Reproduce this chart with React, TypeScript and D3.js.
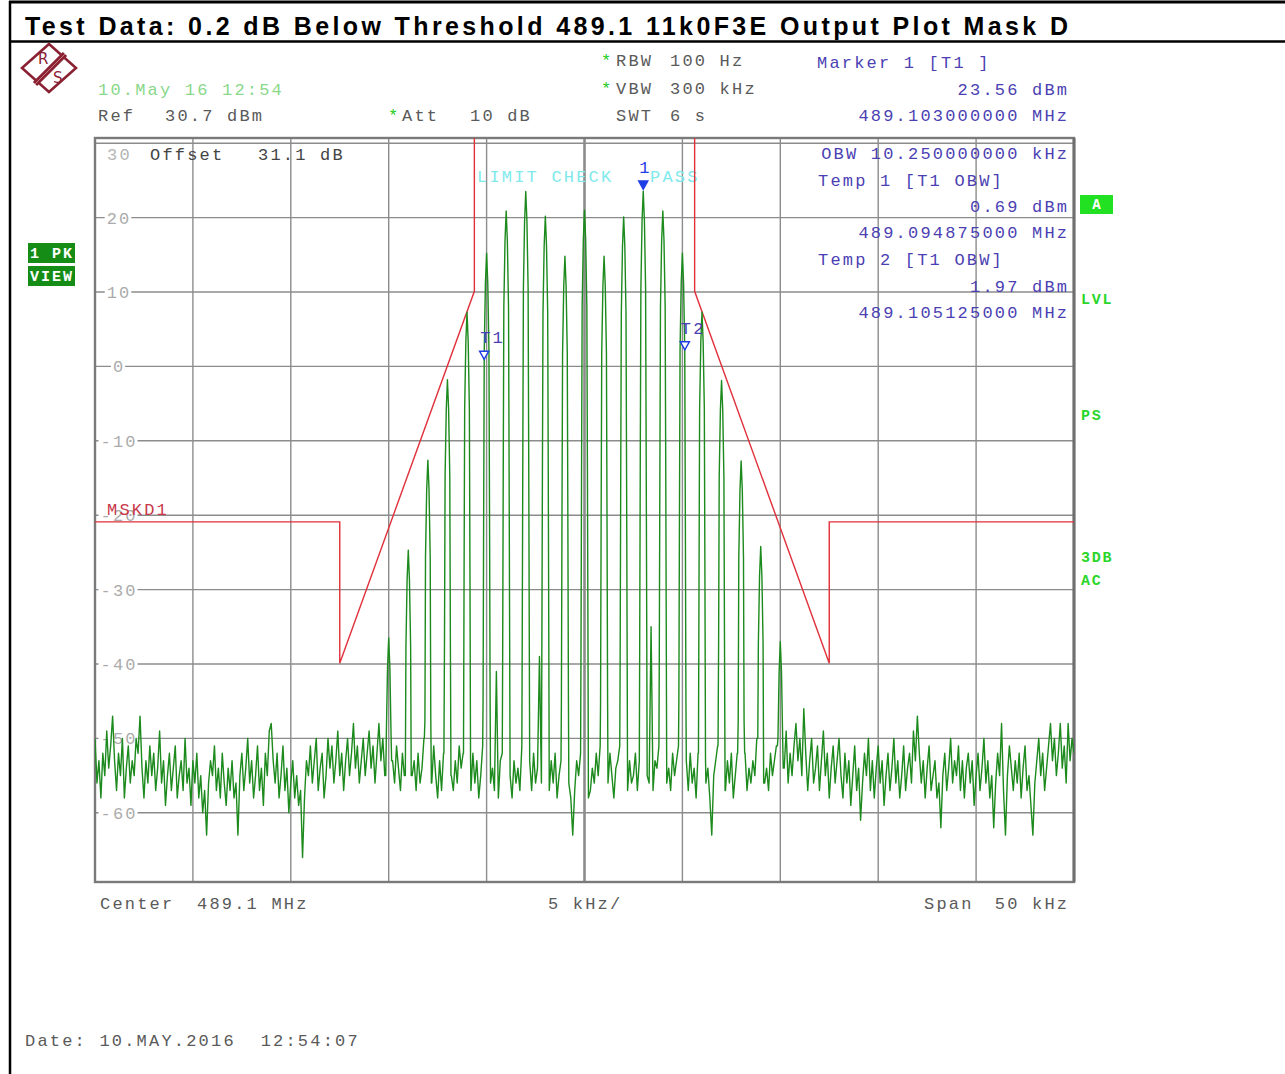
import React from "react";
import * as d3 from "d3";

const W = 1285;
const H = 1074;
const PLOT = { left: 95, right: 1074, top: 138, bottom: 882 };

// frequency offset from centre 489.1 MHz, in kHz
const spanKHz: [number, number] = [-25, 25];
const levelRangeDbm: [number, number] = [-69.3, 30.7];
const gridOffsetsKHz = [-25, -20, -15, -10, -5, 0, 5, 10, 15, 20, 25];
const yTickValues = [30, 20, 10, 0, -10, -20, -30, -40, -50, -60];
const yTickLabels = ["30", "20", "10", "0", "-10", "-20", "-30", "-40", "-50", "-60"];

// FM carrier + Bessel sidebands, 1 kHz spacing
const toneOffsetsKHz = [-10, -9, -8, -7, -6, -5, -4, -3, -2, -1, 0, 1, 2, 3, 4, 5, 6, 7, 8, 9, 10];
const toneLevelsDbm = [-36.5, -24.7, -12.6, -1.8, 7.3, 15.2, 20.9, 23.5, 20.2, 14.8, 21.0, 14.8, 20.1, 23.56, 20.9, 15.2, 7.3, -1.9, -12.7, -24.2, -37.0];
// shape of each spectral line (offset from line centre / drop from its peak)
const skirtOffsetsKHz = [0.06, 0.12, 0.15, 0.18];
const skirtDropsDb = [-4, -13, -35, -60];

// sweep trace between lines, 501 points at 0.1 kHz
const traceStartKHz = -25;
const traceStepKHz = 0.1;
const noiseDbm = [
  -50, -56, -53, -58, -52, -55, -49, -54, -51, -47,
  -53, -57, -52, -55, -50, -58, -54, -51, -56, -53,
  -55, -50, -52, -47, -54, -58, -53, -56, -51, -55,
  -52, -57, -54, -49, -56, -53, -59, -55, -52, -57,
  -54, -51, -58, -55, -53, -57, -50, -56, -54, -59,
  -53, -56, -52, -58, -55, -60, -57, -63, -56, -53,
  -55, -51, -57, -54, -58, -52, -56, -59, -54, -57,
  -53, -58, -56, -63, -55, -52, -57, -54, -50, -56,
  -53, -58, -55, -51, -57, -54, -59, -52, -55, -49,
  -48, -53, -56, -52, -58, -55, -51, -57, -54, -60,
  -56, -53, -58, -55, -59, -57, -66, -58, -53, -55,
  -51, -56, -53, -50, -57, -54, -52, -58, -55, -50,
  -54, -51, -56, -53, -49, -55, -52, -57, -53, -50,
  -55, -52, -48, -54, -51, -56, -53, -50, -55, -52,
  -49, -54, -51, -56, -52, -48, -53, -50, -55, -51,
  -50, -48, -53, -56, -51, -54, -57, -52, -55, -50,
  -49, -51, -55, -53, -57, -52, -56, -54, -50, -49,
  -50, -53, -56, -51, -55, -58, -53, -57, -52, -50,
  -49, -52, -55, -57, -53, -56, -51, -54, -52, -50,
  -50, -54, -57, -52, -56, -53, -58, -55, -51, -49,
  -49, -53, -56, -54, -57, -41, -58, -53, -52, -50,
  -50, -52, -55, -58, -53, -56, -54, -57, -51, -49,
  -50, -55, -53, -57, -52, -56, -54, -39, -56, -50,
  -49, -54, -57, -53, -56, -52, -58, -55, -53, -50,
  -50, -54, -56, -58, -63, -57, -53, -55, -52, -50,
  -49, -55, -58, -57, -54, -56, -52, -55, -51, -50,
  -50, -53, -56, -52, -55, -58, -54, -53, -51, -49,
  -49, -54, -57, -53, -56, -55, -52, -57, -53, -50,
  -50, -52, -55, -56, -35, -57, -53, -54, -51, -50,
  -49, -53, -56, -54, -57, -52, -55, -53, -51, -50,
  -50, -55, -53, -57, -52, -56, -54, -58, -52, -49,
  -49, -53, -56, -54, -58, -63, -55, -53, -51, -50,
  -50, -54, -57, -53, -56, -52, -58, -55, -52, -50,
  -49, -55, -52, -57, -54, -56, -53, -55, -50, -49,
  -50, -53, -56, -54, -57, -52, -55, -53, -51, -49,
  -50, -50, -54, -49, -56, -52, -55, -51, -48, -53,
  -50, -55, -46, -52, -57, -53, -50, -56, -54, -51,
  -57, -53, -49, -55, -52, -58, -54, -51, -56, -53,
  -50, -55, -58, -52, -56, -53, -59, -55, -51, -57,
  -54, -61, -56, -52, -55, -50, -57, -53, -58, -54,
  -51, -56, -53, -59, -55, -52, -57, -54, -50, -56,
  -53, -58, -55, -51, -57, -54, -52, -56, -49, -53,
  -47, -52, -56, -53, -58, -54, -51, -57, -55, -53,
  -58, -56, -62, -55, -52, -57, -54, -50, -56, -53,
  -55, -51, -57, -53, -58, -54, -52, -56, -53, -59,
  -55, -52, -57, -54, -50, -56, -53, -58, -55, -62,
  -56, -52, -55, -48, -57, -63, -55, -51, -54, -57,
  -53, -56, -52, -58, -54, -51, -57, -55, -59, -63,
  -56, -53, -50, -55, -52, -57, -54, -51, -48, -53,
  -50, -55, -52, -48, -54, -51, -56, -48, -53, -50,
  -52,
];

// Emission mask D limit line
const maskOffsetsKHz = [-25, -12.5, -12.5, -5.625, -5.625, 5.625, 5.625, 12.5, 12.5, 25];
const maskLevelsDbm = [-20.9, -20.9, -39.9, 10.1, 45, 45, 10.1, -39.9, -20.9, -20.9];

// markers
const markerNames = ["1", "T1", "T2"];
const markerOffsetsKHz = [3, -5.125, 5.125];
const markerLevelsDbm = [23.56, 0.69, 1.97];
const markerFilled = [true, false, false];

const MONO = "'Liberation Mono', 'Courier New', monospace";

function Mono(props: {
  x: number; y: number; text: string; fill: string;
  anchor?: "start" | "end" | "middle"; fs?: number; pitch?: number; weight?: string | number;
}) {
  const fs = props.fs ?? 17;
  const pitch = props.pitch ?? 12.4;
  const ls = pitch - 0.6 * fs;
  const w = props.text.length * pitch - ls;
  const a = props.anchor ?? "start";
  const x0 = a === "end" ? props.x - w : a === "middle" ? props.x - w / 2 : props.x;
  return (
    <text
      x={x0}
      y={props.y}
      fontFamily={MONO}
      fontSize={fs}
      letterSpacing={ls}
      fill={props.fill}
      fontWeight={props.weight ?? "normal"}
      xmlSpace="preserve"
      style={{ whiteSpace: "pre" }}
    >
      {props.text}
    </text>
  );
}

export default function App() {
  const x = d3.scaleLinear().domain(spanKHz).range([PLOT.left, PLOT.right]);
  const y = d3.scaleLinear().domain(levelRangeDbm).range([PLOT.bottom, PLOT.top]);

  // assemble trace vertices from floor samples and spectral lines
  const pts: [number, number][] = [];
  const maxSkirt = skirtOffsetsKHz[skirtOffsetsKHz.length - 1] + 0.005;
  noiseDbm.forEach((v, i) => {
    const f = traceStartKHz + i * traceStepKHz;
    const near = toneOffsetsKHz.some((t) => Math.abs(f - t) < maxSkirt);
    if (!near) pts.push([f, v]);
  });
  toneOffsetsKHz.forEach((t, j) => {
    const p = toneLevelsDbm[j];
    const idx = Math.round((t - traceStartKHz) / traceStepKHz);
    const floorL = noiseDbm[Math.max(0, idx - 2)];
    const floorR = noiseDbm[Math.min(noiseDbm.length - 1, idx + 2)];
    pts.push([t, p]);
    skirtOffsetsKHz.forEach((o, k) => {
      pts.push([t - o, Math.max(p + skirtDropsDb[k], floorL)]);
      pts.push([t + o, Math.max(p + skirtDropsDb[k], floorR)]);
    });
  });
  pts.sort((a, b) => a[0] - b[0]);

  const line = d3.line<[number, number]>().x((d) => x(d[0])).y((d) => y(d[1]));
  const tracePath = line(pts) ?? "";
  const maskPath =
    line(maskOffsetsKHz.map((f, i) => [f, maskLevelsDbm[i]] as [number, number])) ?? "";

  const grey = "#8c8c8c";
  const setupGrey = "#5a5a5a";
  const markerBlue = "#4b3fb3";
  const triBlue = "#1f3ee6";
  const sideGreen = "#2bd62b";

  return (
    <svg
      width={W}
      height={H}
      viewBox={`0 0 ${W} ${H}`}
      style={{ position: "absolute", left: 0, top: 0, background: "#fff" }}
    >
      <defs>
        <clipPath id="plotClip">
          <rect x={PLOT.left} y={PLOT.top} width={PLOT.right - PLOT.left} height={PLOT.bottom - PLOT.top} />
        </clipPath>
      </defs>
      <rect x={0} y={0} width={W} height={H} fill="#fff" />

      {/* page frame */}
      <line x1={9} y1={2} x2={W} y2={2} stroke="#000" strokeWidth={3} />
      <line x1={10} y1={1} x2={10} y2={H} stroke="#000" strokeWidth={2.5} />
      <line x1={10} y1={41.5} x2={W} y2={41.5} stroke="#000" strokeWidth={2.5} />
      <text
        x={25}
        y={35}
        fontFamily="'Liberation Sans', Arial, sans-serif"
        fontWeight="bold"
        fontSize={25}
        textLength={1043}
        lengthAdjust="spacing"
        fill="#000"
      >
        Test Data: 0.2 dB Below Threshold 489.1 11k0F3E Output Plot Mask D
      </text>

      {/* R&S logo */}
      <g transform="translate(49,68)">
        <polygon points="0,-24 27,0 0,24 -27,0" fill="none" stroke="#8a2233" strokeWidth={2.6} />
        <line x1={16} y1={-14} x2={-14} y2={16} stroke="#8a2233" strokeWidth={6} />
        <line x1={16} y1={-14} x2={-14} y2={16} stroke="#c97a85" strokeWidth={1} />
        <text x={-11} y={-4} fontFamily="'DejaVu Sans', sans-serif" fontSize={15} fill="#8a2233">R</text>
        <text x={4} y={15} fontFamily="'DejaVu Sans', sans-serif" fontSize={15} fill="#8a2233">S</text>
      </g>

      {/* header settings */}
      <Mono x={98} y={95} text="10.May 16 12:54" fill="#8ad88a" />
      <Mono x={98} y={121} text="Ref" fill={setupGrey} />
      <Mono x={165} y={121} text="30.7 dBm" fill={setupGrey} />
      <Mono x={388} y={121} text="*" fill="#22cc22" />
      <Mono x={402} y={121} text="Att" fill={setupGrey} />
      <Mono x={470} y={121} text="10 dB" fill={setupGrey} />
      <Mono x={601} y={66} text="*" fill="#22cc22" />
      <Mono x={616} y={66} text="RBW" fill={setupGrey} />
      <Mono x={670} y={66} text="100 Hz" fill={setupGrey} />
      <Mono x={601} y={94} text="*" fill="#22cc22" />
      <Mono x={616} y={94} text="VBW" fill={setupGrey} />
      <Mono x={670} y={94} text="300 kHz" fill={setupGrey} />
      <Mono x={616} y={121} text="SWT" fill={setupGrey} />
      <Mono x={670} y={121} text="6 s" fill={setupGrey} />
      <Mono x={817} y={68} text="Marker 1 [T1 ]" fill={markerBlue} />
      <Mono x={1067} y={95} text="23.56 dBm" fill={markerBlue} anchor="end" />
      <Mono x={1067} y={121} text="489.103000000 MHz" fill={markerBlue} anchor="end" />

      {/* left indicators */}
      <rect x={28} y={243} width={47} height={20} fill="#158c15" />
      <Mono x={30} y={258} text="1 PK" fill="#fff" fs={15} pitch={11} weight="bold" />
      <rect x={28} y={266} width={47} height={20} fill="#158c15" />
      <Mono x={30} y={281} text="VIEW" fill="#fff" fs={15} pitch={11} weight="bold" />

      {/* right indicators */}
      <rect x={1080} y={195} width={33} height={19} fill="#22e022" />
      <Mono x={1096.5} y={209} text="A" fill="#fff" fs={14} anchor="middle" weight="bold" />
      <Mono x={1081} y={304} text="LVL" fill={sideGreen} fs={15} pitch={10.8} weight="bold" />
      <Mono x={1081} y={420} text="PS" fill={sideGreen} fs={15} pitch={10.8} weight="bold" />
      <Mono x={1081} y={562} text="3DB" fill={sideGreen} fs={15} pitch={10.8} weight="bold" />
      <Mono x={1081} y={585} text="AC" fill={sideGreen} fs={15} pitch={10.8} weight="bold" />

      {/* grid */}
      <g>
        {gridOffsetsKHz.map((f) => (
          <line
            key={"v" + f}
            x1={x(f)}
            x2={x(f)}
            y1={PLOT.top}
            y2={PLOT.bottom}
            stroke={grey}
            strokeWidth={f === 0 ? 2.6 : 1.4}
          />
        ))}
        {yTickValues.map((v) => (
          <line key={"h" + v} x1={PLOT.left} x2={PLOT.right} y1={y(v)} y2={y(v)} stroke={grey} strokeWidth={1.4} />
        ))}
        <rect
          x={PLOT.left}
          y={PLOT.top}
          width={PLOT.right - PLOT.left}
          height={PLOT.bottom - PLOT.top}
          fill="none"
          stroke="#7a7a7a"
          strokeWidth={2.4}
        />
        <line x1={PLOT.right} x2={PLOT.right} y1={PLOT.top} y2={PLOT.bottom} stroke="#6f6f6f" strokeWidth={3} />
      </g>

      {/* y tick labels */}
      {yTickValues.map((v, i) => {
        if (i === 0) return null;
        const t = yTickLabels[i];
        const w = t.length * 12.4 - 2.2;
        return (
          <g key={"yl" + v}>
            <rect x={118 - w / 2 - 2} y={y(v) - 6} width={w + 4} height={12} fill="#fff" />
            <Mono x={118} y={y(v) + 6} text={t} fill="#ababab" anchor="middle" />
          </g>
        );
      })}
      <Mono x={107} y={160} text={yTickLabels[0]} fill="#b5b5b5" />
      <Mono x={150} y={160} text="Offset" fill="#444" />
      <Mono x={258} y={160} text="31.1 dB" fill="#444" />

      {/* marker readouts inside plot */}
      <Mono x={1067} y={159} text="OBW 10.250000000 kHz" fill={markerBlue} anchor="end" />
      <Mono x={818} y={186} text="Temp 1 [T1 OBW]" fill={markerBlue} />
      <Mono x={1067} y={212} text="0.69 dBm" fill={markerBlue} anchor="end" />
      <Mono x={1067} y={238} text="489.094875000 MHz" fill={markerBlue} anchor="end" />
      <Mono x={818} y={265} text="Temp 2 [T1 OBW]" fill={markerBlue} />
      <Mono x={1067} y={292} text="1.97 dBm" fill={markerBlue} anchor="end" />
      <Mono x={1067} y={318} text="489.105125000 MHz" fill={markerBlue} anchor="end" />

      <Mono x={477} y={182} text="LIMIT CHECK" fill="#7fe9ec" />
      <Mono x={650} y={182} text="PASS" fill="#7fe9ec" />

      {/* limit line and trace */}
      <g clipPath="url(#plotClip)">
        <path d={maskPath} fill="none" stroke="#e0303a" strokeWidth={1.4} />
        <path d={tracePath} fill="none" stroke="#1c8a1c" strokeWidth={1.4} strokeLinejoin="round" />
      </g>
      <Mono x={107} y={515} text="MSKD1" fill="#c8384a" />

      {/* markers */}
      {markerNames.map((n, i) => {
        const mx = x(markerOffsetsKHz[i]);
        const my = y(markerLevelsDbm[i]) - 2;
        return (
          <g key={"m" + n}>
            <polygon
              points={`${mx - 4.5},${my - 8} ${mx + 4.5},${my - 8} ${mx},${my}`}
              fill={markerFilled[i] ? triBlue : "#fff"}
              stroke={triBlue}
              strokeWidth={1.5}
            />
            <Mono x={mx - 4} y={my - 16} text={n} fill={markerFilled[i] ? triBlue : markerBlue} />
          </g>
        );
      })}

      {/* footer */}
      <Mono x={100} y={909} text="Center" fill={setupGrey} />
      <Mono x={197} y={909} text="489.1 MHz" fill={setupGrey} />
      <Mono x={548} y={909} text="5 kHz/" fill={setupGrey} />
      <Mono x={924} y={909} text="Span" fill={setupGrey} />
      <Mono x={1067} y={909} text="50 kHz" fill={setupGrey} anchor="end" />
      <Mono x={25} y={1046} text="Date: 10.MAY.2016  12:54:07" fill={setupGrey} />
    </svg>
  );
}
